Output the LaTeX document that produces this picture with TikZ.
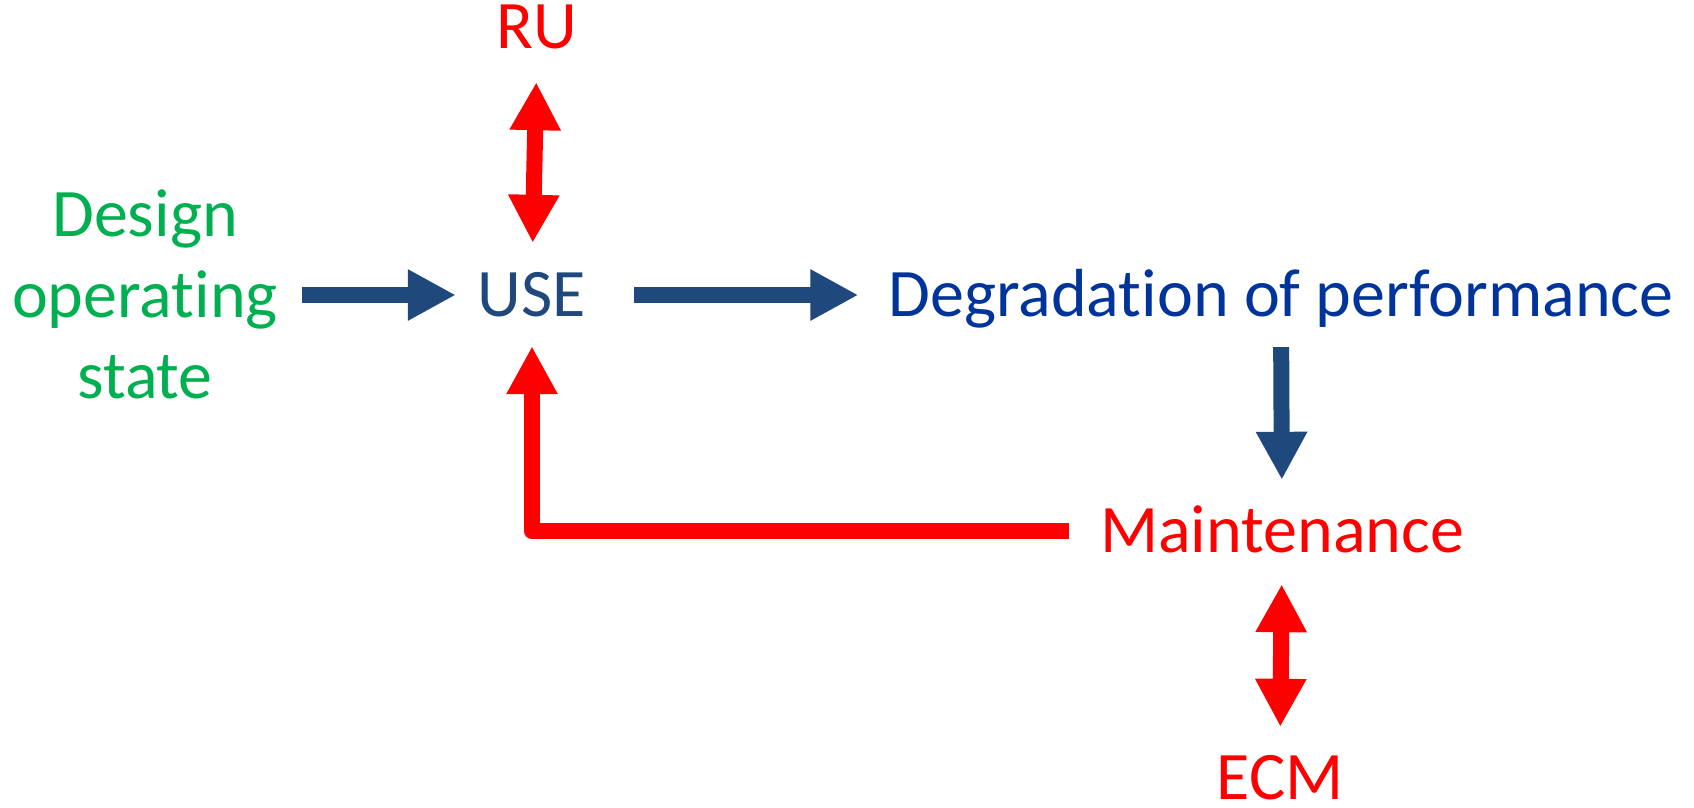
\documentclass[tikz,border=0pt]{standalone}
\usepackage{fontspec}
\setmainfont{Carlito}[Ligatures={NoCommon,NoRare,NoContextual},Contextuals={NoAlternate}]
\usetikzlibrary{arrows.meta}
\definecolor{ofgreen}{HTML}{00B050}
\definecolor{ofred}{HTML}{FF0000}
\definecolor{ofnavy}{HTML}{1F497D}
\definecolor{ofblue}{HTML}{00349A}
\begin{document}
\begin{tikzpicture}[x=1pt,y=-1pt,
  lbl/.style={inner sep=0pt, anchor=base, text height=42pt, text depth=0pt,
    font=\fontsize{68}{81}\selectfont},
  fat/.style={line width=16pt},
  tipR/.style={-{Triangle[length=48pt,width=48pt]}},
  tipRR/.style={{Triangle[length=48pt,width=48pt]}-{Triangle[length=48pt,width=48pt]}}]
\useasboundingbox (0,0) rectangle (1694,807);

% labels
\node[inner sep=0pt, align=center, text=ofgreen,
  font=\fontsize{68}{81}\selectfont] (design) at (145,294) {Design\\operating\\state};
\node[lbl, text=ofred] (ru) at (537,48) {RU};
\node[lbl, text=ofnavy] (use) at (532,316) {USE};
\node[lbl, text=ofblue] (degr) at (1281,316) {Degradation of performance};
\node[lbl, text=ofred] (maint) at (1282,552) {Maintenance};
\node[lbl, text=ofred] (ecm) at (1280,799) {ECM};

% forward chain
\draw[fat, tipR, ofnavy, shorten <=24pt, shorten >=22pt] (design.east |- use.west) -- (use.west);
\draw[fat, tipR, ofnavy, shorten <=48pt, shorten >=30pt] (use.east) -- (degr.west);
\draw[fat, tipR, ofnavy, shorten <=31pt, shorten >=30pt] (degr.south) -- (maint.north);

% feedback from maintenance to use
\draw[fat, tipR, ofred, line join=round, shorten <=31pt, shorten >=30pt] (maint.west) -| (use.south);

% exchanges with RU and ECM
\draw[fat, tipRR, ofred, shorten <=34pt, shorten >=31pt] (ru.south) -- (use.north);
\draw[fat, tipRR, ofred, shorten <=32pt, shorten >=30pt] (maint.south) -- (ecm.north);
\end{tikzpicture}
\end{document}
